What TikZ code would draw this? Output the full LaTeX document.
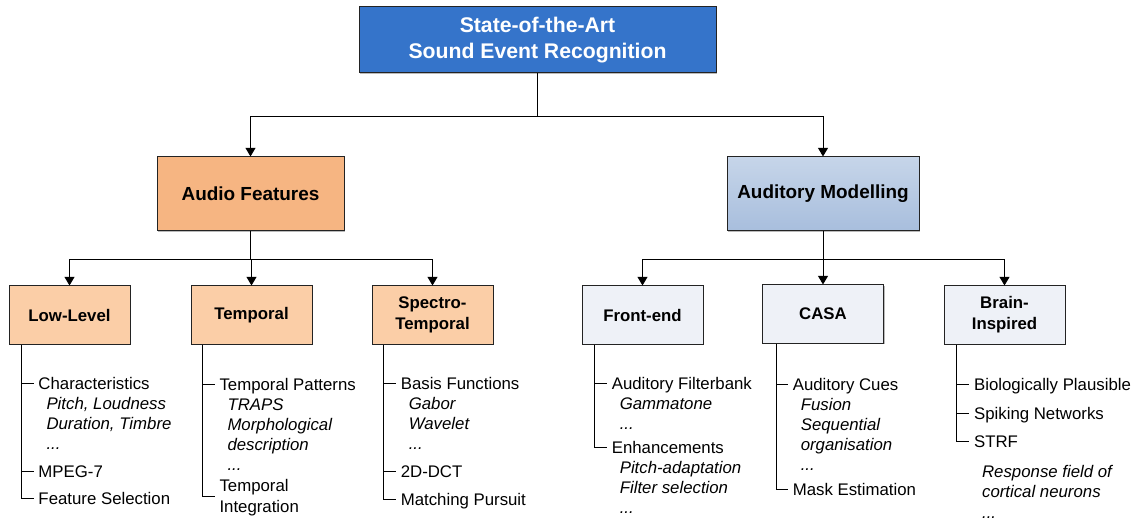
\documentclass[tikz,border=0pt]{standalone}
\usepackage{fontspec}
\setmainfont{Liberation Sans}
\usetikzlibrary{arrows.meta,calc,shadows}
\definecolor{topblue}{RGB}{53,116,202}
\definecolor{afill}{RGB}{246,181,130}
\definecolor{peach}{RGB}{251,206,167}
\definecolor{amtop}{RGB}{198,213,233}
\definecolor{ambot}{RGB}{168,190,221}
\definecolor{gfill}{RGB}{238,241,247}
\definecolor{edge}{RGB}{35,35,35}
\begin{document}
\begin{tikzpicture}[x=0.75pt,y=-0.75pt,
  box/.style={draw=edge, line width=0.75pt, align=center, inner sep=0pt,
    drop shadow={shadow xshift=0.9pt, shadow yshift=-0.9pt, fill=black!45, opacity=0.6}},
  lowbox/.style={box, minimum width=90.75pt, minimum height=43.5pt,
    font=\bfseries\fontsize{12.6}{15.75}\selectfont},
  orangebox/.style={lowbox, fill=peach},
  graybox/.style={lowbox, fill=gfill},
  item/.style={anchor=west, inner xsep=3.4pt, inner ysep=0pt,
    font=\fontsize{12.6}{15}\selectfont, text height=9pt, text depth=0pt},
  sub/.style={item, font=\itshape\fontsize{12.6}{15}\selectfont},
  arr/.style={-{Triangle[width=7.5pt,length=6.5pt]}, line width=0.75pt},
  tree/.style={line width=0.75pt}
]
\useasboundingbox (0,0) rectangle (1135,520);

% top
\node[box, fill=topblue, text=white, minimum width=267.75pt, minimum height=49.5pt,
  font=\bfseries\fontsize{15.9}{19.5}\selectfont] (top) at (537.5,40)
  {State-of-the-Art\\Sound Event Recognition};

% middle
\node[box, fill=afill, minimum width=140.25pt, minimum height=55.5pt,
  font=\bfseries\fontsize{14.2}{17}\selectfont] (af) at (250.5,194) {Audio Features};
\node[box, top color=amtop, bottom color=ambot, minimum width=144pt, minimum height=55.5pt,
  font=\bfseries\fontsize{14.2}{17}\selectfont] (am) at (823,194) {Auditory Modelling};

% lower boxes
\node[orangebox] (ll) at (69.5,315) {Low-Level};
\node[orangebox] (tp) at (251.5,315) {Temporal};
\node[orangebox] (sp) at (432.5,315) {Spectro-\\Temporal};
\node[graybox] (fe) at (642.5,315) {Front-end};
\node[graybox] (ca) at (823,314) {CASA};
\node[graybox] (br) at (1004.5,315) {Brain-\\Inspired};

% connectors top
\coordinate (j1) at ($(top.south)+(0,43)$);
\draw[tree] (top.south) -- (j1);
\draw[arr] (j1) -| (af.north);
\draw[arr] (j1) -| (am.north);

\coordinate (j2) at ($(af.south)+(0,28.5)$);
\draw[tree] (af.south) -- (j2);
\draw[arr] (j2) -| (ll.north);
\draw[arr] (j2) -| (tp.north);
\draw[arr] (j2) -| (sp.north);

\coordinate (j3) at ($(am.south)+(0,28.5)$);
\draw[tree] (am.south) -- (j3);
\draw[arr] (j3) -| (fe.north);
\draw[arr] (j3) -| (ca.north);
\draw[arr] (j3) -| (br.north);

% Low-Level list
\coordinate (llT) at ($(ll.south west)+(12.7,0)$);
\node[item] (ll1) at (33.7,383) {Characteristics};
\node[sub] (ll1a) at (41.7,403) {Pitch, Loudness};
\node[sub] (ll1b) at (41.7,423) {Duration, Timbre};
\node[sub] (ll1c) at (41.7,443) {...};
\node[item] (ll2) at (33.7,471.5) {MPEG-7};
\node[item] (ll3) at (33.7,498.5) {Feature Selection};
\draw[tree] (llT) |- (ll3.west);
\draw[tree] (llT |- ll1.west) -- (ll1.west);
\draw[tree] (llT |- ll2.west) -- (ll2.west);

% Temporal list
\coordinate (tpT) at ($(tp.south west)+(11.7,0)$);
\node[item] (tp1) at (214.7,384) {Temporal Patterns};
\node[sub] (tp1a) at (222.7,404) {TRAPS};
\node[sub] (tp1b) at (222.7,424.5) {Morphological};
\node[sub] (tp1c) at (222.7,444.5) {description};
\node[sub] (tp1d) at (222.7,464.5) {...};
\node[item] (tp2a) at (214.7,485.5) {Temporal};
\node[item] (tp2b) at (214.7,506.5) {Integration};
\coordinate (tp2) at ($(tp2a.west)!0.5!(tp2b.west)$);
\draw[tree] (tpT) |- (tp2);
\draw[tree] (tpT |- tp1.west) -- (tp1.west);

% Spectro-Temporal list
\coordinate (spT) at ($(sp.south west)+(12,0)$);
\node[item] (sp1) at (396,383) {Basis Functions};
\node[sub] (sp1a) at (404,403) {Gabor};
\node[sub] (sp1b) at (404,423) {Wavelet};
\node[sub] (sp1c) at (404,443) {...};
\node[item] (sp2) at (396,471) {2D-DCT};
\node[item] (sp3) at (396,499) {Matching Pursuit};
\draw[tree] (spT) |- (sp3.west);
\draw[tree] (spT |- sp1.west) -- (sp1.west);
\draw[tree] (spT |- sp2.west) -- (sp2.west);

% Front-end list
\coordinate (feT) at ($(fe.south west)+(13,0)$);
\node[item] (fe1) at (607,383) {Auditory Filterbank};
\node[sub] (fe1a) at (615,403) {Gammatone};
\node[sub] (fe1b) at (615,423) {...};
\node[item] (fe2) at (607,447) {Enhancements};
\node[sub] (fe2a) at (615,467) {Pitch-adaptation};
\node[sub] (fe2b) at (615,487.5) {Filter selection};
\node[sub] (fe2c) at (615,507.5) {...};
\draw[tree] (feT) |- (fe2.west);
\draw[tree] (feT |- fe1.west) -- (fe1.west);

% CASA list
\coordinate (caT) at ($(ca.south west)+(14,0)$);
\node[item] (ca1) at (788,384) {Auditory Cues};
\node[sub] (ca1a) at (796,404) {Fusion};
\node[sub] (ca1b) at (796,424.5) {Sequential};
\node[sub] (ca1c) at (796,444.5) {organisation};
\node[sub] (ca1d) at (796,464.5) {...};
\node[item] (ca2) at (788,489) {Mask Estimation};
\draw[tree] (caT) |- (ca2.west);
\draw[tree] (caT |- ca1.west) -- (ca1.west);

% Brain-Inspired list
\coordinate (brT) at ($(br.south west)+(13.3,0)$);
\node[item] (br1) at (969.3,384) {Biologically Plausible};
\node[item] (br2) at (969.3,413) {Spiking Networks};
\node[item] (br3) at (969.3,441) {STRF};
\node[sub] (br3a) at (977.3,471.5) {Response field of};
\node[sub] (br3b) at (977.3,491.5) {cortical neurons};
\node[sub] (br3c) at (977.3,512) {...};
\draw[tree] (brT) |- (br3.west);
\draw[tree] (brT |- br1.west) -- (br1.west);
\draw[tree] (brT |- br2.west) -- (br2.west);
\end{tikzpicture}
\end{document}
